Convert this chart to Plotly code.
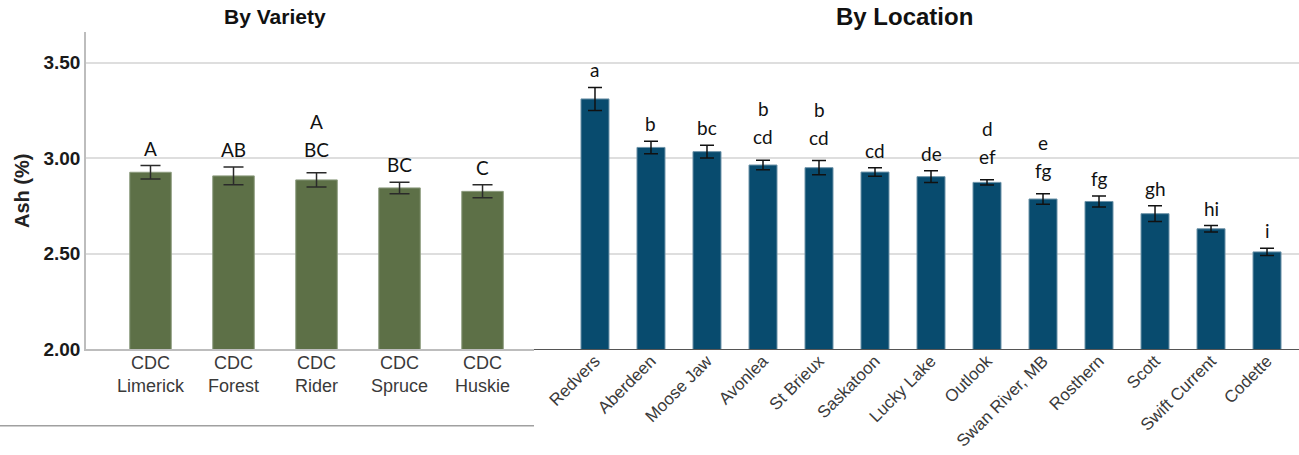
import plotly.graph_objects as go

# ---------------- data ----------------
varieties = ["CDC Limerick", "CDC Forest", "CDC Rider", "CDC Spruce", "CDC Huskie"]
variety_ticktext = ["CDC<br>Limerick", "CDC<br>Forest", "CDC<br>Rider", "CDC<br>Spruce", "CDC<br>Huskie"]
variety_mean = [2.927, 2.908, 2.887, 2.845, 2.827]
variety_err = [0.035, 0.046, 0.037, 0.030, 0.034]
variety_letters = ["A", "AB", "BC", "BC", "C"]
variety_letters_top = ["", "", "A", "", ""]

locations = ["Redvers", "Aberdeen", "Moose Jaw", "Avonlea", "St Brieux", "Saskatoon",
             "Lucky Lake", "Outlook", "Swan River, MB", "Rosthern", "Scott",
             "Swift Current", "Codette"]
location_mean = [3.311, 3.057, 3.035, 2.965, 2.951, 2.928, 2.904, 2.874, 2.787,
                 2.774, 2.710, 2.631, 2.510]
location_err = [0.060, 0.033, 0.033, 0.025, 0.037, 0.022, 0.031, 0.014, 0.028,
                0.029, 0.041, 0.017, 0.019]
location_letters = ["a", "b", "bc", "cd", "cd", "cd", "de", "ef", "fg", "fg", "gh", "hi", "i"]
location_letters_top = ["", "", "", "b", "b", "", "", "d", "e", "", "", "", ""]

y_ticks = [2.00, 2.50, 3.00, 3.50]

# ---------------- layout constants ----------------
W, H = 1299, 455
GREEN = "#5d7047"
BLUE = "#084b6e"
TICKFONT = "Liberation Sans, Arial, sans-serif"
LETTERFONT = "Lato, Carlito, Calibri, sans-serif"
LETTERSIZE = 19


def px_x(p):
    return p / W


def px_y(p):
    return 1 - p / H


fig = go.Figure()

fig.add_trace(go.Bar(
    x=varieties, y=variety_mean, width=0.5,
    marker=dict(color=GREEN, line=dict(color="#8d9c7f", width=1)),
    error_y=dict(type="data", array=variety_err, color="#2a2a2a", thickness=1.5, width=10),
    xaxis="x", yaxis="y", showlegend=False,
))

fig.add_trace(go.Bar(
    x=locations, y=location_mean, width=0.5,
    marker=dict(color=BLUE, line=dict(color="#6d93a8", width=1)),
    error_y=dict(type="data", array=location_err, color="#111111", thickness=1.5, width=7),
    xaxis="x2", yaxis="y2", showlegend=False,
))

annotations = []
for xr, yr, cats, means, errs, low, top in [
    ("x", "y", varieties, variety_mean, variety_err, variety_letters, variety_letters_top),
    ("x2", "y2", locations, location_mean, location_err, location_letters, location_letters_top),
]:
    for c, m, e, lo, tp in zip(cats, means, errs, low, top):
        base_shift = 10 if tp else 4
        annotations.append(dict(
            x=c, y=m + e, xref=xr, yref=yr, text=lo, showarrow=False,
            yanchor="bottom", yshift=base_shift,
            font=dict(family=LETTERFONT, size=LETTERSIZE, color="#111111"),
        ))
        if tp:
            annotations.append(dict(
                x=c, y=m + e, xref=xr, yref=yr, text=tp, showarrow=False,
                yanchor="bottom", yshift=base_shift + 28,
                font=dict(family=LETTERFONT, size=LETTERSIZE, color="#111111"),
            ))

# two-line category labels of the variety panel
for c, t in zip(varieties, variety_ticktext):
    annotations.append(dict(x=c, xref="x", y=px_y(374), yref="paper", text=t,
                            showarrow=False, xanchor="center", yanchor="middle",
                            font=dict(family=TICKFONT, size=18, color="#3a3a3a")))

# titles
annotations.append(dict(x=px_x(275), y=px_y(17), xref="paper", yref="paper",
                        text="By Variety", showarrow=False, xanchor="center", yanchor="middle",
                        font=dict(family=TICKFONT, size=21, color="#111111", weight="bold")))
annotations.append(dict(x=px_x(904.5), y=px_y(17), xref="paper", yref="paper",
                        text="By Location", showarrow=False, xanchor="center", yanchor="middle",
                        font=dict(family=TICKFONT, size=24, color="#111111", weight="bold")))
# y axis title
annotations.append(dict(x=px_x(22), y=px_y(191), xref="paper", yref="paper",
                        text="Ash (%)", showarrow=False, textangle=-90,
                        xanchor="center", yanchor="middle",
                        font=dict(family=TICKFONT, size=20, color="#222222", weight="bold")))

y_dom = [px_y(349.3), px_y(31.7)]
y_range = [2.0, 3.663]

fig.update_layout(
    width=W, height=H,
    margin=dict(l=0, r=0, t=0, b=0, autoexpand=False),
    paper_bgcolor="white", plot_bgcolor="white",
    bargap=0.5,
    annotations=annotations,
    xaxis=dict(
        domain=[px_x(86), px_x(534)], automargin=False,
        type="category", range=[-0.777, 4.62],
        showticklabels=False,
        showline=True, linecolor="#bdbdbd", linewidth=1.5,
        showgrid=False, ticks="",
    ),
    yaxis=dict(
        domain=y_dom, range=y_range, automargin=False,
        tickvals=y_ticks, ticktext=[f"{v:.2f}" for v in y_ticks],
        tickfont=dict(family=TICKFONT, size=19, color="#1a1a1a", weight="bold"),
        showline=True, linecolor="#bdbdbd", linewidth=1.5,
        showgrid=True, gridcolor="#dedede", gridwidth=1.5,
        zeroline=False, ticks="",
    ),
    xaxis2=dict(
        domain=[px_x(534), 1.0], automargin=False,
        type="category", range=[-1.089, 12.571],
        tickfont=dict(family=TICKFONT, size=17, color="#3a3a3a"),
        tickangle=-45, ticklabelstandoff=-6,
        showline=True, linecolor="#555555", linewidth=1.3,
        showgrid=False, ticks="",
        anchor="y2",
    ),
    yaxis2=dict(
        domain=y_dom, range=y_range, anchor="x2", automargin=False,
        tickvals=y_ticks, showticklabels=False,
        showline=False,
        showgrid=True, gridcolor="#dedede", gridwidth=1.5,
        zeroline=False, ticks="",
    ),
    shapes=[dict(type="line", xref="paper", yref="paper",
                 x0=0, x1=px_x(534), y0=px_y(425.7), y1=px_y(425.7),
                 line=dict(color="#a0a0a0", width=1.5))],
)

fig.write_html("out.html",
               config={"displayModeBar": False},
               post_script="document.body.style.margin='0';document.body.style.overflow='hidden';")
